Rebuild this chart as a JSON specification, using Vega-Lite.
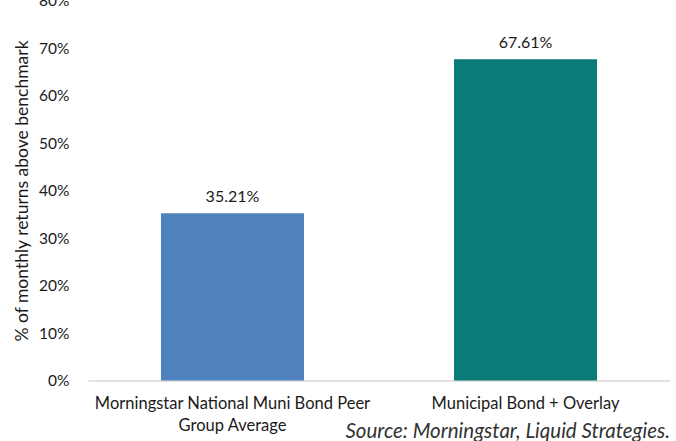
{
  "$schema": "https://vega.github.io/schema/vega-lite/v6.json",
  "autosize": {"type": "none"},
  "padding": {"left": 88, "top": 0.5, "right": 6, "bottom": 61},
  "width": 582,
  "height": 380,
  "background": "white",
  "config": {
    "view": {"stroke": null},
    "font": "Lato"
  },
  "title": {
    "text": "Source: Morningstar, Liquid Strategies.",
    "orient": "bottom",
    "anchor": "end",
    "font": "Lato",
    "fontSize": 20.5,
    "fontStyle": "italic",
    "fontWeight": "normal",
    "color": "#333333",
    "offset": -12
  },
  "data": {
    "values": [
      {"category": "Morningstar National Muni Bond Peer Group Average", "value": 0.3521},
      {"category": "Municipal Bond + Overlay", "value": 0.6761}
    ]
  },
  "encoding": {
    "x": {
      "field": "category",
      "type": "nominal",
      "sort": null,
      "scale": {"paddingInner": 0.512, "paddingOuter": 0.249},
      "axis": {
        "title": null,
        "labelAngle": 0,
        "labelFont": "Lato",
        "labelFontSize": 16.5,
        "labelColor": "#1a1a1a",
        "labelPadding": 15,
        "labelLimit": 400,
        "labelLineHeight": 22,
        "ticks": false,
        "domainColor": "#d9d9d9",
        "domainWidth": 1.5,
        "labelExpr": "datum.value == 'Morningstar National Muni Bond Peer Group Average' ? ['Morningstar National Muni Bond Peer', 'Group Average'] : datum.value"
      }
    },
    "y": {
      "field": "value",
      "type": "quantitative",
      "scale": {"domain": [0, 0.8]},
      "axis": {
        "title": "% of monthly returns above benchmark",
        "titleFont": "Lato",
        "titleFontSize": 17.5,
        "titleFontWeight": "normal",
        "titleColor": "#1a1a1a",
        "titlePadding": 7,
        "format": ".0%",
        "values": [0, 0.1, 0.2, 0.3, 0.4, 0.5, 0.6, 0.7, 0.8],
        "labelFont": "Lato",
        "labelFontSize": 15.5,
        "labelColor": "#1a1a1a",
        "labelPadding": 19,
        "ticks": false,
        "domain": false,
        "grid": false
      }
    }
  },
  "layer": [
    {
      "mark": {"type": "bar"},
      "encoding": {
        "color": {
          "field": "category",
          "type": "nominal",
          "sort": null,
          "scale": {"range": ["#4f81bd", "#0a7b77"]},
          "legend": null
        }
      }
    },
    {
      "mark": {"type": "text", "dy": -16, "fontSize": 16, "font": "Lato", "color": "#1a1a1a"},
      "encoding": {
        "text": {"field": "value", "type": "quantitative", "format": ".2%"}
      }
    }
  ]
}
